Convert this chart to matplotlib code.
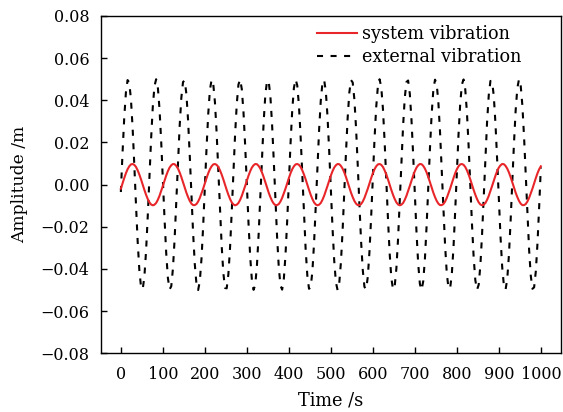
import matplotlib
matplotlib.use("Agg")
import matplotlib.pyplot as plt

# time axis (s), one sample every 4 s
time_s = list(range(0, 1001, 4))

# system vibration amplitude (m)
system_vib = [
    -0.0019, 0.0006, 0.0031, 0.0054, 0.0073, 0.0087, 0.0096, 0.0098, 0.0094, 0.0084,
    0.0068, 0.0048, 0.0025, 0.0000, -0.0025, -0.0048, -0.0068, -0.0084, -0.0094, -0.0098,
    -0.0095, -0.0087, -0.0072, -0.0053, -0.0030, -0.0006, 0.0019, 0.0043, 0.0064, 0.0081,
    0.0092, 0.0098, 0.0097, 0.0089, 0.0076, 0.0058, 0.0036, 0.0012, -0.0013, -0.0038,
    -0.0059, -0.0077, -0.0090, -0.0097, -0.0097, -0.0092, -0.0080, -0.0063, -0.0041,
    -0.0019, 0.0006, 0.0031, 0.0054, 0.0073, 0.0087, 0.0096, 0.0098, 0.0094, 0.0084,
    0.0068, 0.0048, 0.0025, 0.0000, -0.0025, -0.0048, -0.0068, -0.0084, -0.0094, -0.0098,
    -0.0095, -0.0087, -0.0072, -0.0053, -0.0030, -0.0006, 0.0019, 0.0043, 0.0064, 0.0081,
    0.0092, 0.0098, 0.0097, 0.0089, 0.0076, 0.0058, 0.0036, 0.0012, -0.0013, -0.0038,
    -0.0059, -0.0077, -0.0090, -0.0097, -0.0097, -0.0092, -0.0080, -0.0063, -0.0041,
    -0.0019, 0.0006, 0.0031, 0.0054, 0.0073, 0.0087, 0.0096, 0.0098, 0.0094, 0.0084,
    0.0068, 0.0048, 0.0025, 0.0000, -0.0025, -0.0048, -0.0068, -0.0084, -0.0094, -0.0098,
    -0.0095, -0.0087, -0.0072, -0.0053, -0.0030, -0.0006, 0.0019, 0.0043, 0.0064, 0.0081,
    0.0092, 0.0098, 0.0097, 0.0089, 0.0076, 0.0058, 0.0036, 0.0012, -0.0013, -0.0038,
    -0.0059, -0.0077, -0.0090, -0.0097, -0.0097, -0.0092, -0.0080, -0.0063, -0.0041,
    -0.0019, 0.0006, 0.0031, 0.0054, 0.0073, 0.0087, 0.0096, 0.0098, 0.0094, 0.0084,
    0.0068, 0.0048, 0.0025, 0.0000, -0.0025, -0.0048, -0.0068, -0.0084, -0.0094, -0.0098,
    -0.0095, -0.0087, -0.0072, -0.0053, -0.0030, -0.0006, 0.0019, 0.0043, 0.0064, 0.0081,
    0.0092, 0.0098, 0.0097, 0.0089, 0.0076, 0.0058, 0.0036, 0.0012, -0.0013, -0.0038,
    -0.0059, -0.0077, -0.0090, -0.0097, -0.0097, -0.0092, -0.0080, -0.0063, -0.0041,
    -0.0019, 0.0006, 0.0031, 0.0054, 0.0073, 0.0087, 0.0096, 0.0098, 0.0094, 0.0084,
    0.0068, 0.0048, 0.0025, 0.0000, -0.0025, -0.0048, -0.0068, -0.0084, -0.0094, -0.0098,
    -0.0095, -0.0087, -0.0072, -0.0053, -0.0030, -0.0006, 0.0019, 0.0043, 0.0064, 0.0081,
    0.0092, 0.0098, 0.0097, 0.0089, 0.0076, 0.0058, 0.0036, 0.0012, -0.0013, -0.0038,
    -0.0059, -0.0077, -0.0090, -0.0097, -0.0097, -0.0092, -0.0080, -0.0063, -0.0041,
    -0.0019, 0.0006, 0.0031, 0.0054, 0.0073, 0.0087,
]

# external vibration amplitude (m)
external_vib = [
    -0.0035, 0.0151, 0.0316, 0.0437, 0.0496, 0.0485, 0.0405, 0.0269, 0.0094, -0.0094,
    -0.0269, -0.0405, -0.0485, -0.0496, -0.0437, -0.0316, -0.0151, 0.0035, 0.0217, 0.0368,
    0.0467, 0.0500, 0.0463, 0.0360, 0.0206, 0.0024, -0.0162, -0.0325, -0.0443, -0.0497,
    -0.0482, -0.0398, -0.0258, -0.0082, 0.0105, 0.0278, 0.0412, 0.0487, 0.0494, 0.0431,
    0.0307, 0.0140, -0.0047, -0.0228, -0.0376, -0.0471,
    -0.0500, -0.0458, -0.0351, -0.0195, -0.0012, 0.0173, 0.0334, 0.0448, 0.0498, 0.0478,
    0.0391, 0.0248, 0.0071, -0.0117, -0.0288, -0.0419, -0.0490, -0.0492, -0.0425, -0.0298,
    -0.0128, 0.0059, 0.0238, 0.0383, 0.0475, 0.0499, 0.0453, 0.0343, 0.0185, 0.0000,
    -0.0185, -0.0343, -0.0453, -0.0499, -0.0475, -0.0383, -0.0238, -0.0059, 0.0128, 0.0298,
    0.0425, 0.0492, 0.0490, 0.0419, 0.0288, 0.0117, -0.0071, -0.0248, -0.0391, -0.0478,
    -0.0498, -0.0448, -0.0334, -0.0173, 0.0012, 0.0195, 0.0351, 0.0458, 0.0500, 0.0471,
    0.0376, 0.0228, 0.0047, -0.0140, -0.0307, -0.0431, -0.0494, -0.0487, -0.0412, -0.0278,
    -0.0105, 0.0082, 0.0258, 0.0398, 0.0482, 0.0497, 0.0443, 0.0325, 0.0162, -0.0024,
    -0.0206, -0.0360, -0.0463, -0.0500, -0.0467, -0.0368, -0.0217, -0.0035, 0.0151, 0.0316,
    0.0437, 0.0496, 0.0485, 0.0405, 0.0269, 0.0094, -0.0094, -0.0269, -0.0405, -0.0485,
    -0.0496, -0.0437, -0.0316, -0.0151, 0.0035, 0.0217, 0.0368, 0.0467, 0.0500, 0.0463,
    0.0360, 0.0206, 0.0024, -0.0162, -0.0325, -0.0443, -0.0497, -0.0482, -0.0398, -0.0258,
    -0.0082, 0.0105, 0.0278, 0.0412, 0.0487, 0.0494, 0.0431, 0.0307, 0.0140, -0.0047,
    -0.0228, -0.0376, -0.0471,
    -0.0500, -0.0458, -0.0351, -0.0195, -0.0012, 0.0173, 0.0334, 0.0448, 0.0498, 0.0478,
    0.0391, 0.0248, 0.0071, -0.0117, -0.0288, -0.0419, -0.0490, -0.0492, -0.0425, -0.0298,
    -0.0128, 0.0059, 0.0238, 0.0383, 0.0475, 0.0499, 0.0453, 0.0343, 0.0185, 0.0000,
    -0.0185, -0.0343, -0.0453, -0.0499, -0.0475, -0.0383, -0.0238, -0.0059, 0.0128, 0.0298,
    0.0425, 0.0492, 0.0490, 0.0419, 0.0288, 0.0117, -0.0071, -0.0248, -0.0391, -0.0478,
    -0.0498, -0.0448, -0.0334, -0.0173, 0.0012, 0.0195, 0.0351, 0.0458, 0.0500, 0.0471,
    0.0376, 0.0228, 0.0047, -0.0140, -0.0307, -0.0431, -0.0494, -0.0487, -0.0412, -0.0278,
    -0.0105, 0.0082,
]

x_ticks = [0, 100, 200, 300, 400, 500, 600, 700, 800, 900, 1000]
y_ticks = [-0.08, -0.06, -0.04, -0.02, 0.00, 0.02, 0.04, 0.06, 0.08]

plt.rcParams['font.family'] = 'DejaVu Serif'
plt.rcParams['axes.unicode_minus'] = True

W, H = 563, 412
fig = plt.figure(figsize=(W / 100, H / 100), dpi=100)
ax = fig.add_axes([100.7 / W, 1 - 353.3 / H, 460.3 / W, 337.3 / H])

ax.plot(time_s, system_vib, color='#e8262a', lw=1.5, label='system vibration', zorder=3)
ax.plot(time_s, external_vib, color='black', lw=1.5, dashes=(2.9, 3.6),
        label='external vibration', zorder=2)

ax.set_xlim(-48, 1048)
ax.set_ylim(-0.08, 0.08)
ax.set_xticks(x_ticks)
ax.set_yticks(y_ticks)
ax.set_yticklabels([f"{v:.2f}".replace('-', '\u2212') for v in y_ticks])

ax.tick_params(direction='in', length=4.3, width=1.0, labelsize=11.5,
               top=False, right=False)
ax.tick_params(axis='x', pad=9)
ax.tick_params(axis='y', pad=8)
for s in ax.spines.values():
    s.set_linewidth(1.0)

ax.set_xlabel("Time /s", fontsize=12.8, labelpad=6)
ax.set_ylabel("Amplitude /m", fontsize=12.3, labelpad=9)

ax.legend(loc='upper left', bbox_to_anchor=(316.7 / W, 1 - 25 / H),
          bbox_transform=fig.transFigure, frameon=False, fontsize=12.7,
          handlelength=2.26, handletextpad=0.28, borderpad=0, borderaxespad=0,
          labelspacing=0.3)

fig.savefig('out.png', dpi=100)
